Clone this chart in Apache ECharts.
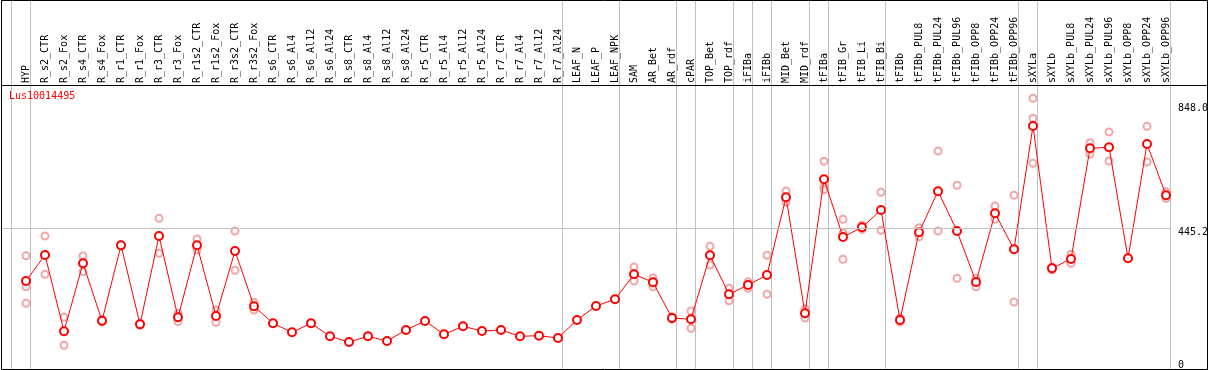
<!DOCTYPE html>
<html><head><meta charset="utf-8">
<script src="https://cdn.jsdelivr.net/npm/echarts@6/dist/echarts.min.js"></script>
<style>html,body{margin:0;padding:0;background:#fff;overflow:hidden}#c{width:1209px;height:370px}</style>
</head><body><div id="c"></div>
<script>
const chartTitle = 'Lus10014495';
const categories = ['HYP','R_s2_CTR','R_s2_Fox','R_s4_CTR','R_s4_Fox','R_r1_CTR','R_r1_Fox','R_r3_CTR','R_r3_Fox','R_r1s2_CTR','R_r1s2_Fox','R_r3s2_CTR','R_r3s2_Fox','R_s6_CTR','R_s6_Al4','R_s6_Al12','R_s6_Al24','R_s8_CTR','R_s8_Al4','R_s8_Al12','R_s8_Al24','R_r5_CTR','R_r5_Al4','R_r5_Al12','R_r5_Al24','R_r7_CTR','R_r7_Al4','R_r7_Al12','R_r7_Al24','LEAF_N','LEAF_P','LEAF_NPK','SAM','AR_Bet','AR_rdf','cPAR','TOP_Bet','TOP_rdf','iFIBa','iFIBb','MID_Bet','MID_rdf','tFIBa','tFIB_Gr','tFIB_Li','tFIB_Bi','tFIBb','tFIBb_PUL8','tFIBb_PUL24','tFIBb_PUL96','tFIBb_OPP8','tFIBb_OPP24','tFIBb_OPP96','sXYLa','sXYLb','sXYLb_PUL8','sXYLb_PUL24','sXYLb_PUL96','sXYLb_OPP8','sXYLb_OPP24','sXYLb_OPP96'];
const means = [278.4,360.7,119.3,334.4,152.8,391.4,141.4,420.8,163.6,391.4,167.7,373.4,198.4,144.6,116.1,144.6,103.5,85.4,103.5,88.6,123.4,151.9,109.8,135.1,120.2,123.4,103.5,105.4,98.1,155.0,199.3,220.5,299.6,274.3,161.4,157.3,359.8,236.4,265.8,297.4,543.3,176.2,600.2,417.7,448.4,503.1,155.0,432.5,562.3,436.7,275.3,492.7,378.8,768.9,318.6,348.1,698.3,701.5,350.3,711.9,549.6];
const replicates = [
  [358.5,260.4,207.9],[420.8,299.6],[163.6,75.0],[357.6,307.9],[156.6,148.7],
  [393.3,389.2],[144.6,138.3],[476.8,366.1],[176.2,149.7],[411.3,376.5],
  [186.7,147.8],[436.7,312.3],[211.1,186.7],[],[],
  [],[],[],[],[],
  [],[],[],[],[],
  [],[],[],[],[],
  [],[],[322.7,278.4],[287.9,260.4],[165.5,157.3],
  [183.5,128.8],[388.2,329.1],[255.4,216.1],[276.2,255.4],[359.8,236.4],
  [563.2,527.5],[189.8,161.4],[657.2,575.9,567.3],[473.7,429.4,347.1],[454.7,442.0],
  [559.1,438.9],[161.4,148.7],[447.1,418.6],[689.8,436.7],[581.3,287.0],
  [287.0,260.4],[515.8,473.7],[549.6,212.0],[856.5,793.3,650.9],[322.7,313.3],
  [362.9,334.4],[716.1,680.3],[749.9,658.1],[351.2,349.3],[767.9,655.0],
  [561.0,540.1]
];
const yTickValues = [0, 445.2, 848.0];
const yTickLabels = ['0', '445.2', '848.0'];
const refLineValue = 445.2;
const groupStarts = [0,1,29,32,35,36,38,39,40,42,43,46,53,54];

const FONT = 'DejaVu Sans Mono';
const meanData = means.map((v, i) => [i, v]);
const repData = [];
replicates.forEach((arr, i) => arr.forEach(v => repData.push([i, v])));
// separator axis has one blank leading slot so that the line left of HYP is an inner line
const sepCategories = [''].concat(categories);
const sepSet = new Set(groupStarts.map(i => i + 1));
const richNames = ['lo', 'mid', 'hi'];

const chart = echarts.init(document.getElementById('c'), null, {renderer: 'canvas'});
chart.setOption({
  animation: false,
  backgroundColor: '#fff',
  title: {
    text: chartTitle, left: 9, top: 91, padding: 0,
    textStyle: {fontFamily: FONT, fontSize: 10, fontWeight: 'normal', color: '#ff0000'}
  },
  grid: [
    {left: 1, top: 85, width: 1169, height: 284, containLabel: false, outerBoundsMode: 'none'},
    {left: -8, top: 0, width: 1178, height: 369, containLabel: false, outerBoundsMode: 'none'},
    {left: 16.5, top: 0, width: 1159, height: 85, containLabel: false, outerBoundsMode: 'none'}
  ],
  xAxis: [
    {gridIndex: 0, type: 'value', min: -1.31579, max: 60.2105, show: false},
    {gridIndex: 1, type: 'category', data: sepCategories, boundaryGap: true,
      axisLine: {show: false}, axisTick: {show: false}, axisLabel: {show: false},
      splitLine: {show: true, interval: (idx) => sepSet.has(idx), lineStyle: {color: '#c0c0c0', width: 1}}},
    {gridIndex: 2, type: 'category', data: categories, boundaryGap: true, position: 'bottom',
      axisLine: {show: false}, axisTick: {show: false}, splitLine: {show: false},
      axisLabel: {inside: true, rotate: 90, interval: 0, margin: 2, fontFamily: FONT, fontSize: 10, color: '#000'}}
  ],
  yAxis: [
    {gridIndex: 0, type: 'value', position: 'right', min: 0, max: 898.6,
      axisLine: {show: false}, axisTick: {show: false}, splitLine: {show: false},
      axisLabel: {
        show: true, margin: 8, customValues: yTickValues, verticalAlign: 'middle',
        fontFamily: FONT, fontSize: 10, color: '#000',
        formatter: (val) => {
          const k = yTickValues.findIndex(t => Math.abs(t - val) < 1e-6);
          return k < 0 ? '' : '{' + richNames[k] + '|' + yTickLabels[k] + '}';
        },
        rich: {
          lo: {fontFamily: FONT, fontSize: 10, color: '#000', padding: [0, 0, 8, 0]},
          mid: {fontFamily: FONT, fontSize: 10, color: '#000', padding: [9, 0, 0, 0]},
          hi: {fontFamily: FONT, fontSize: 10, color: '#000', padding: [14, 0, 0, 0]}
        }
      }},
    {gridIndex: 1, type: 'value', show: false},
    {gridIndex: 2, type: 'value', show: false}
  ],
  series: [
    {
      type: 'scatter', xAxisIndex: 0, yAxisIndex: 0, data: repData,
      symbol: 'emptyCircle', symbolSize: 7,
      itemStyle: {color: '#f09090', borderColor: '#f09090', borderWidth: 1},
      markLine: {
        silent: true, symbol: ['none', 'none'], label: {show: false},
        lineStyle: {color: '#c0c0c0', type: 'solid', width: 1},
        data: [{yAxis: refLineValue}]
      },
      z: 2
    },
    {
      type: 'line', xAxisIndex: 0, yAxisIndex: 0, data: meanData,
      symbol: 'emptyCircle', symbolSize: 8, showAllSymbol: true,
      lineStyle: {color: '#ff0000', width: 1},
      itemStyle: {color: '#ff0000', borderColor: '#e00000', borderWidth: 2},
      z: 3
    }
  ],
  graphic: [
    {type: 'rect', shape: {x: 1.5, y: 0.5, width: 1206, height: 369}, style: {fill: 'none', stroke: '#000', lineWidth: 1}, z: 10},
    {type: 'line', shape: {x1: 1, y1: 85.5, x2: 1207, y2: 85.5}, style: {stroke: '#000', lineWidth: 1}, z: 10}
  ]
});
</script>
</body></html>
